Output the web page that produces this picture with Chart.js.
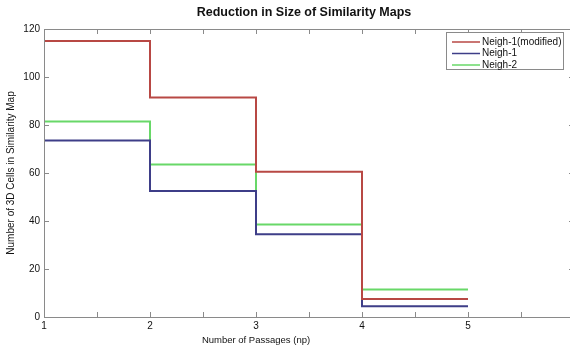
<!DOCTYPE html>
<html>
<head>
<meta charset="utf-8">
<script src="https://cdn.jsdelivr.net/npm/chart.js@4/dist/chart.umd.min.js"></script>
<style>
  html, body { margin: 0; padding: 0; background: #fff; overflow: hidden; }
  #wrap { width: 608px; height: 349px; }
</style>
</head>
<body>
<div id="wrap"><canvas id="chart"></canvas></div>
<script>
// data
const passages = [1, 2, 3, 4, 5];
const neigh1Modified = [115, 91.5, 60.5, 7.5, 7.5];
const neigh1 = [73.5, 52.5, 34.5, 4.5, 4.5];
const neigh2 = [81.5, 63.5, 38.5, 11.5, 11.5];
const seriesNames = ["Neigh-1(modified)", "Neigh-1", "Neigh-2"];
const seriesColors = ["#b84844", "#3e3e88", "#68d868"];
const xLabels = ["1", "2", "3", "4", "5"];

const font = "'Liberation Sans', Arial, sans-serif";
const textColor = "#111";
const frameColor = "#8a8a8a";

function toPoints(values) {
  return values.map((v, i) => ({ x: passages[i], y: v }));
}

// matlab-like box with inward ticks, titles and a legend inside the axes
const matlabFrame = {
  id: "matlabFrame",
  afterDatasetsDraw(chart) {
    const { ctx, chartArea: a, scales } = chart;
    const x = scales.x, y = scales.y;
    ctx.save();
    ctx.strokeStyle = frameColor;
    ctx.lineWidth = 1;
    ctx.strokeRect(a.left + 0.5, a.top + 0.5, a.right - a.left, a.bottom - a.top);

    ctx.beginPath();
    x.ticks.forEach((t) => {
      const px = Math.round(x.getPixelForValue(t.value)) + 0.5;
      ctx.moveTo(px, a.bottom); ctx.lineTo(px, a.bottom - 5);
      ctx.moveTo(px, a.top); ctx.lineTo(px, a.top + 5);
    });
    y.ticks.forEach((t) => {
      const py = Math.round(y.getPixelForValue(t.value)) + 0.5;
      ctx.moveTo(a.left, py); ctx.lineTo(a.left + 5, py);
      ctx.moveTo(a.right, py); ctx.lineTo(a.right - 5, py);
    });
    ctx.stroke();

    ctx.fillStyle = textColor;
    ctx.textAlign = "center";
    ctx.textBaseline = "middle";
    // chart title
    ctx.font = "bold 12.5px " + font;
    ctx.fillText("Reduction in Size of Similarity Maps", 304, 13);
    // x axis title, centred under the data range
    ctx.font = "9.5px " + font;
    ctx.fillText("Number of Passages (np)", x.getPixelForValue(3), 340);

    // legend box
    ctx.font = "10px " + font;
    const bx = 446, by = 32, bw = 117, bh = 37;
    ctx.fillStyle = "#fff";
    ctx.fillRect(bx, by, bw, bh);
    ctx.strokeStyle = frameColor;
    ctx.strokeRect(bx + 0.5, by + 0.5, bw, bh);
    chart.data.datasets.forEach((ds, i) => {
      const ly = by + 10 + i * 11.5;
      ctx.strokeStyle = ds.borderColor;
      ctx.lineWidth = 1.5;
      ctx.beginPath();
      ctx.moveTo(bx + 6, ly); ctx.lineTo(bx + 34, ly);
      ctx.stroke();
      ctx.fillStyle = textColor;
      ctx.textAlign = "left";
      ctx.fillText(ds.label, bx + 36, ly);
    });
    ctx.restore();
  }
};

const ctx = document.getElementById("chart").getContext("2d");
const chart = new Chart(ctx, {
  type: "line",
  data: {
    datasets: [
      { label: seriesNames[0], data: toPoints(neigh1Modified), borderColor: seriesColors[0] },
      { label: seriesNames[1], data: toPoints(neigh1), borderColor: seriesColors[1] },
      { label: seriesNames[2], data: toPoints(neigh2), borderColor: seriesColors[2] },
    ].map((d) => Object.assign(d, { stepped: true, pointRadius: 0, borderWidth: 2, fill: false })),
  },
  options: {
    responsive: true,
    maintainAspectRatio: false,
    animation: false,
    layout: { padding: { left: 0, right: 34, top: 29, bottom: 0 } },
    plugins: {
      legend: { display: false },
      tooltip: { enabled: false },
      title: { display: false },
    },
    scales: {
      x: {
        type: "linear",
        min: 1,
        max: 6,
        grid: { display: false, drawTicks: false },
        border: { display: false },
        ticks: {
          stepSize: 0.5,
          autoSkip: false,
          maxRotation: 0,
          padding: 3,
          color: textColor,
          font: { family: font, size: 10 },
          callback: (v) => xLabels.includes(String(v)) ? String(v) : "",
        },
        afterFit: (s) => { s.height = 32; },
      },
      y: {
        min: 0,
        max: 120,
        grid: { display: false, drawTicks: false },
        border: { display: false },
        ticks: {
          stepSize: 20,
          padding: 4,
          color: textColor,
          font: { family: font, size: 10 },
        },
        title: {
          display: true,
          text: "Number of 3D Cells in Similarity Map",
          color: textColor,
          font: { family: font, size: 10 },
          padding: { top: 5, bottom: 0 },
        },
        afterFit: (s) => { s.width = 44; },
      },
    },
  },
  plugins: [matlabFrame],
});
</script>
</body>
</html>
